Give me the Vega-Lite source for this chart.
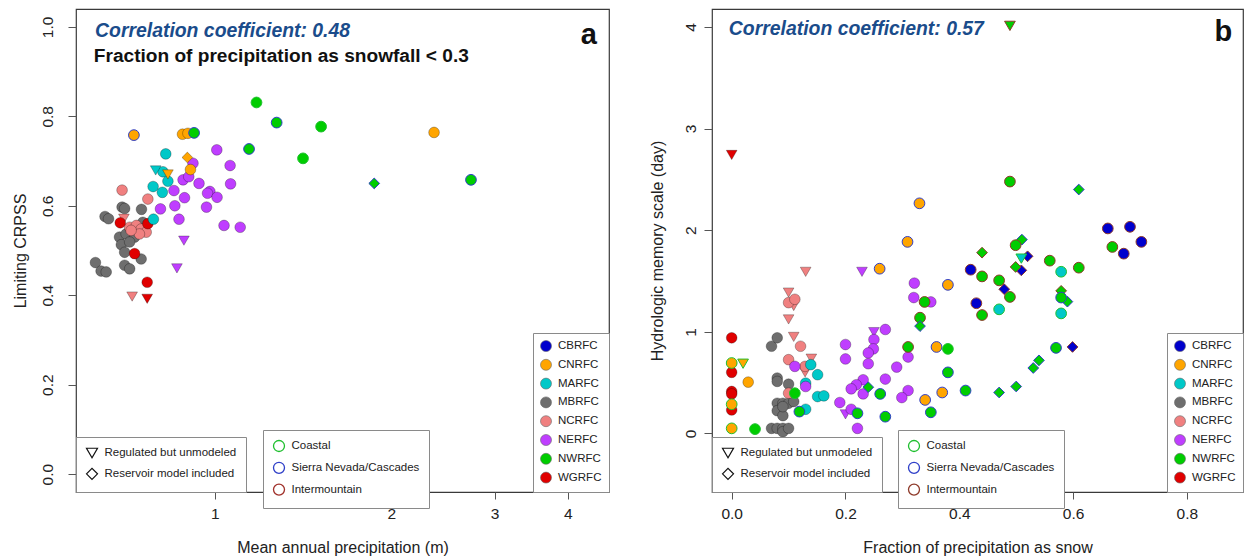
{
  "$schema": "https://vega.github.io/schema/vega-lite/v6.json",
  "background": "white",
  "padding": {"left": 11, "top": 8, "right": 2, "bottom": 0},
  "bounds": "flush",
  "spacing": 103,
  "config": {
    "font": "Liberation Sans",
    "view": {"stroke": "#3a3a3a", "strokeWidth": 1.2},
    "axis": {"domain": false, "grid": false, "ticks": true, "tickColor": "#555", "tickSize": 7, "tickWidth": 1, "labelFontSize": 15.5, "labelColor": "#222", "labelPadding": 7, "labelFlush": false, "labelOverlap": false, "titleFontSize": 16, "titleFontWeight": "normal", "titleColor": "#222"},
    "axisX": {"titlePadding": 18},
    "axisY": {"labelAngle": -90, "labelAlign": "center", "labelBaseline": "bottom", "tickSize": 8, "labelPadding": 6, "titlePadding": 12},
    "legend": {"strokeColor": "#8a8a8a", "fillColor": "white", "padding": 9.5, "labelFontSize": 11.5, "labelColor": "#222", "rowPadding": 4.8, "labelOffset": 6, "symbolSize": 121, "offset": 0}
  },
  "datasets": {
    "a": [
      {"rfc":"MBRFC","t":"N","g":"O","p":0.695,"s":0.597},
      {"rfc":"MBRFC","t":"N","g":"O","p":0.702,"s":0.594},
      {"rfc":"MBRFC","t":"N","g":"O","p":0.750,"s":0.592},
      {"rfc":"MBRFC","t":"N","g":"O","p":0.650,"s":0.576},
      {"rfc":"MBRFC","t":"N","g":"O","p":0.659,"s":0.571},
      {"rfc":"MBRFC","t":"N","g":"O","p":0.754,"s":0.563},
      {"rfc":"MBRFC","t":"N","g":"O","p":0.688,"s":0.530},
      {"rfc":"MBRFC","t":"N","g":"O","p":0.706,"s":0.537},
      {"rfc":"MBRFC","t":"N","g":"O","p":0.693,"s":0.513},
      {"rfc":"MBRFC","t":"N","g":"O","p":0.730,"s":0.530},
      {"rfc":"MBRFC","t":"N","g":"O","p":0.716,"s":0.519},
      {"rfc":"MBRFC","t":"N","g":"O","p":0.702,"s":0.496},
      {"rfc":"MBRFC","t":"N","g":"O","p":0.749,"s":0.481},
      {"rfc":"MBRFC","t":"N","g":"O","p":0.626,"s":0.473},
      {"rfc":"MBRFC","t":"N","g":"O","p":0.640,"s":0.454},
      {"rfc":"MBRFC","t":"N","g":"O","p":0.653,"s":0.452},
      {"rfc":"MBRFC","t":"N","g":"O","p":0.702,"s":0.467},
      {"rfc":"MBRFC","t":"N","g":"O","p":0.716,"s":0.459},
      {"rfc":"NCRFC","t":"N","g":"O","p":0.695,"s":0.635},
      {"rfc":"NCRFC","t":"N","g":"O","p":0.769,"s":0.615},
      {"rfc":"NCRFC","t":"R","g":"O","p":0.700,"s":0.571},
      {"rfc":"NCRFC","t":"N","g":"O","p":0.716,"s":0.552},
      {"rfc":"NCRFC","t":"N","g":"O","p":0.735,"s":0.556},
      {"rfc":"NCRFC","t":"N","g":"O","p":0.749,"s":0.548},
      {"rfc":"NCRFC","t":"N","g":"O","p":0.764,"s":0.541},
      {"rfc":"NCRFC","t":"N","g":"O","p":0.744,"s":0.537},
      {"rfc":"NCRFC","t":"N","g":"O","p":0.720,"s":0.545},
      {"rfc":"NCRFC","t":"R","g":"O","p":0.723,"s":0.397},
      {"rfc":"WGRFC","t":"N","g":"O","p":0.690,"s":0.562},
      {"rfc":"WGRFC","t":"N","g":"O","p":0.769,"s":0.560},
      {"rfc":"WGRFC","t":"N","g":"O","p":0.730,"s":0.493},
      {"rfc":"WGRFC","t":"N","g":"O","p":0.767,"s":0.429},
      {"rfc":"WGRFC","t":"R","g":"O","p":0.767,"s":0.392},
      {"rfc":"MARFC","t":"N","g":"O","p":0.825,"s":0.716},
      {"rfc":"MARFC","t":"N","g":"O","p":0.816,"s":0.676},
      {"rfc":"MARFC","t":"N","g":"O","p":0.832,"s":0.655},
      {"rfc":"MARFC","t":"N","g":"O","p":0.785,"s":0.643},
      {"rfc":"MARFC","t":"N","g":"O","p":0.814,"s":0.630},
      {"rfc":"MARFC","t":"N","g":"O","p":0.786,"s":0.570},
      {"rfc":"MARFC","t":"R","g":"O","p":0.793,"s":0.679},
      {"rfc":"NERFC","t":"N","g":"O","p":1.008,"s":0.725},
      {"rfc":"NERFC","t":"N","g":"O","p":0.918,"s":0.695},
      {"rfc":"NERFC","t":"N","g":"O","p":1.062,"s":0.690},
      {"rfc":"NERFC","t":"N","g":"O","p":0.883,"s":0.658},
      {"rfc":"NERFC","t":"N","g":"O","p":0.903,"s":0.665},
      {"rfc":"NERFC","t":"N","g":"O","p":0.940,"s":0.650},
      {"rfc":"NERFC","t":"N","g":"O","p":1.064,"s":0.649},
      {"rfc":"NERFC","t":"N","g":"O","p":0.981,"s":0.632},
      {"rfc":"NERFC","t":"N","g":"O","p":0.972,"s":0.628},
      {"rfc":"NERFC","t":"N","g":"O","p":1.009,"s":0.619},
      {"rfc":"NERFC","t":"N","g":"O","p":0.855,"s":0.600},
      {"rfc":"NERFC","t":"N","g":"O","p":0.888,"s":0.618},
      {"rfc":"NERFC","t":"N","g":"O","p":0.852,"s":0.634},
      {"rfc":"NERFC","t":"N","g":"O","p":0.808,"s":0.593},
      {"rfc":"NERFC","t":"N","g":"O","p":0.968,"s":0.597},
      {"rfc":"NERFC","t":"N","g":"O","p":0.869,"s":0.570},
      {"rfc":"NERFC","t":"N","g":"O","p":1.037,"s":0.556},
      {"rfc":"NERFC","t":"N","g":"O","p":1.105,"s":0.552},
      {"rfc":"NERFC","t":"R","g":"O","p":0.886,"s":0.522},
      {"rfc":"NERFC","t":"R","g":"O","p":0.862,"s":0.460},
      {"rfc":"CNRFC","t":"N","g":"S","p":0.728,"s":0.758},
      {"rfc":"CNRFC","t":"N","g":"O","p":0.881,"s":0.760},
      {"rfc":"CNRFC","t":"N","g":"O","p":0.900,"s":0.762},
      {"rfc":"CNRFC","t":"N","g":"O","p":2.365,"s":0.764},
      {"rfc":"CNRFC","t":"M","g":"O","p":0.898,"s":0.708},
      {"rfc":"CNRFC","t":"N","g":"O","p":0.909,"s":0.681},
      {"rfc":"CNRFC","t":"R","g":"O","p":0.832,"s":0.670},
      {"rfc":"NWRFC","t":"N","g":"C","p":1.178,"s":0.831},
      {"rfc":"NWRFC","t":"N","g":"S","p":1.275,"s":0.786},
      {"rfc":"NWRFC","t":"N","g":"S","p":0.922,"s":0.763},
      {"rfc":"NWRFC","t":"N","g":"S","p":1.144,"s":0.727},
      {"rfc":"NWRFC","t":"N","g":"C","p":1.518,"s":0.777},
      {"rfc":"NWRFC","t":"N","g":"C","p":1.414,"s":0.706},
      {"rfc":"NWRFC","t":"M","g":"S","p":1.870,"s":0.650},
      {"rfc":"NWRFC","t":"N","g":"S","p":2.734,"s":0.658}
    ],
    "b": [
      {"rfc":"MBRFC","t":"N","g":"O","f":0.070,"m":0.858},
      {"rfc":"MBRFC","t":"N","g":"O","f":0.080,"m":0.941},
      {"rfc":"MBRFC","t":"N","g":"O","f":0.080,"m":0.545},
      {"rfc":"MBRFC","t":"N","g":"O","f":0.080,"m":0.512},
      {"rfc":"MBRFC","t":"N","g":"O","f":0.100,"m":0.485},
      {"rfc":"MBRFC","t":"N","g":"O","f":0.080,"m":0.297},
      {"rfc":"MBRFC","t":"N","g":"O","f":0.090,"m":0.297},
      {"rfc":"MBRFC","t":"N","g":"O","f":0.100,"m":0.297},
      {"rfc":"MBRFC","t":"N","g":"O","f":0.109,"m":0.314},
      {"rfc":"MBRFC","t":"N","g":"O","f":0.080,"m":0.224},
      {"rfc":"MBRFC","t":"N","g":"O","f":0.090,"m":0.175},
      {"rfc":"MBRFC","t":"N","g":"O","f":0.090,"m":0.264},
      {"rfc":"MBRFC","t":"N","g":"O","f":0.070,"m":0.050},
      {"rfc":"MBRFC","t":"N","g":"O","f":0.080,"m":0.050},
      {"rfc":"MBRFC","t":"N","g":"O","f":0.090,"m":0.050},
      {"rfc":"MBRFC","t":"N","g":"O","f":0.090,"m":0.017},
      {"rfc":"MBRFC","t":"N","g":"O","f":0.100,"m":0.050},
      {"rfc":"NCRFC","t":"R","g":"O","f":0.130,"m":1.590},
      {"rfc":"NCRFC","t":"R","g":"O","f":0.100,"m":1.386},
      {"rfc":"NCRFC","t":"R","g":"O","f":0.109,"m":1.254},
      {"rfc":"NCRFC","t":"R","g":"O","f":0.100,"m":1.122},
      {"rfc":"NCRFC","t":"R","g":"O","f":0.109,"m":0.950},
      {"rfc":"NCRFC","t":"R","g":"O","f":0.140,"m":0.736},
      {"rfc":"NCRFC","t":"R","g":"O","f":0.129,"m":0.601},
      {"rfc":"NCRFC","t":"N","g":"O","f":0.100,"m":1.287},
      {"rfc":"NCRFC","t":"N","g":"O","f":0.111,"m":1.320},
      {"rfc":"NCRFC","t":"N","g":"O","f":0.121,"m":0.858},
      {"rfc":"NCRFC","t":"N","g":"O","f":0.100,"m":0.726},
      {"rfc":"NCRFC","t":"N","g":"O","f":0.129,"m":0.660},
      {"rfc":"NCRFC","t":"N","g":"O","f":0.100,"m":0.396},
      {"rfc":"WGRFC","t":"R","g":"O","f":0.000,"m":2.740},
      {"rfc":"WGRFC","t":"N","g":"O","f":0.000,"m":0.941},
      {"rfc":"WGRFC","t":"N","g":"O","f":0.000,"m":0.601},
      {"rfc":"WGRFC","t":"N","g":"O","f":0.000,"m":0.413},
      {"rfc":"WGRFC","t":"N","g":"O","f":0.000,"m":0.389},
      {"rfc":"WGRFC","t":"N","g":"O","f":0.000,"m":0.231},
      {"rfc":"CNRFC","t":"N","g":"C","f":0.000,"m":0.693},
      {"rfc":"CNRFC","t":"N","g":"C","f":0.000,"m":0.287},
      {"rfc":"CNRFC","t":"N","g":"C","f":0.000,"m":0.050},
      {"rfc":"CNRFC","t":"N","g":"O","f":0.029,"m":0.505},
      {"rfc":"CNRFC","t":"R","g":"C","f":0.020,"m":0.686},
      {"rfc":"CNRFC","t":"N","g":"S","f":0.330,"m":2.264},
      {"rfc":"CNRFC","t":"N","g":"S","f":0.309,"m":1.885},
      {"rfc":"CNRFC","t":"N","g":"S","f":0.260,"m":1.621},
      {"rfc":"CNRFC","t":"N","g":"S","f":0.380,"m":1.462},
      {"rfc":"CNRFC","t":"N","g":"S","f":0.360,"m":0.851},
      {"rfc":"CNRFC","t":"N","g":"S","f":0.340,"m":0.330},
      {"rfc":"CNRFC","t":"N","g":"S","f":0.370,"m":0.403},
      {"rfc":"MARFC","t":"N","g":"O","f":0.139,"m":0.677},
      {"rfc":"MARFC","t":"N","g":"O","f":0.151,"m":0.578},
      {"rfc":"MARFC","t":"N","g":"O","f":0.130,"m":0.495},
      {"rfc":"MARFC","t":"N","g":"O","f":0.151,"m":0.363},
      {"rfc":"MARFC","t":"N","g":"O","f":0.162,"m":0.370},
      {"rfc":"MARFC","t":"N","g":"O","f":0.130,"m":0.238},
      {"rfc":"NERFC","t":"R","g":"O","f":0.229,"m":1.590},
      {"rfc":"NERFC","t":"R","g":"O","f":0.250,"m":0.997},
      {"rfc":"NERFC","t":"R","g":"O","f":0.200,"m":0.188},
      {"rfc":"NERFC","t":"N","g":"O","f":0.321,"m":1.479},
      {"rfc":"NERFC","t":"N","g":"O","f":0.320,"m":1.337},
      {"rfc":"NERFC","t":"N","g":"O","f":0.350,"m":1.294},
      {"rfc":"NERFC","t":"N","g":"O","f":0.270,"m":1.023},
      {"rfc":"NERFC","t":"N","g":"O","f":0.250,"m":0.924},
      {"rfc":"NERFC","t":"N","g":"O","f":0.249,"m":0.832},
      {"rfc":"NERFC","t":"N","g":"O","f":0.240,"m":0.792},
      {"rfc":"NERFC","t":"N","g":"O","f":0.200,"m":0.875},
      {"rfc":"NERFC","t":"N","g":"O","f":0.200,"m":0.733},
      {"rfc":"NERFC","t":"N","g":"O","f":0.310,"m":0.752},
      {"rfc":"NERFC","t":"N","g":"O","f":0.310,"m":0.422},
      {"rfc":"NERFC","t":"N","g":"O","f":0.290,"m":0.653},
      {"rfc":"NERFC","t":"N","g":"O","f":0.270,"m":0.535},
      {"rfc":"NERFC","t":"N","g":"O","f":0.231,"m":0.528},
      {"rfc":"NERFC","t":"N","g":"O","f":0.240,"m":0.686},
      {"rfc":"NERFC","t":"N","g":"O","f":0.219,"m":0.479},
      {"rfc":"NERFC","t":"N","g":"O","f":0.210,"m":0.439},
      {"rfc":"NERFC","t":"N","g":"O","f":0.231,"m":0.389},
      {"rfc":"NERFC","t":"N","g":"O","f":0.190,"m":0.304},
      {"rfc":"NERFC","t":"N","g":"O","f":0.210,"m":0.238},
      {"rfc":"NERFC","t":"N","g":"O","f":0.221,"m":0.050},
      {"rfc":"NERFC","t":"N","g":"O","f":0.299,"m":0.353},
      {"rfc":"NERFC","t":"N","g":"O","f":0.111,"m":0.660},
      {"rfc":"NERFC","t":"N","g":"O","f":0.130,"m":0.462},
      {"rfc":"CBRFC","t":"N","g":"I","f":0.661,"m":2.017},
      {"rfc":"CBRFC","t":"N","g":"I","f":0.700,"m":2.033},
      {"rfc":"CBRFC","t":"N","g":"I","f":0.720,"m":1.885},
      {"rfc":"CBRFC","t":"N","g":"I","f":0.689,"m":1.769},
      {"rfc":"CBRFC","t":"N","g":"I","f":0.420,"m":1.611},
      {"rfc":"CBRFC","t":"N","g":"I","f":0.430,"m":1.281},
      {"rfc":"CBRFC","t":"M","g":"I","f":0.520,"m":1.743},
      {"rfc":"CBRFC","t":"M","g":"I","f":0.509,"m":1.605},
      {"rfc":"CBRFC","t":"M","g":"I","f":0.479,"m":1.419},
      {"rfc":"CBRFC","t":"M","g":"I","f":0.599,"m":0.851},
      {"rfc":"NWRFC","t":"R","g":"I","f":0.489,"m":4.010},
      {"rfc":"NWRFC","t":"N","g":"I","f":0.489,"m":2.478},
      {"rfc":"NWRFC","t":"M","g":"S","f":0.610,"m":2.400},
      {"rfc":"NWRFC","t":"N","g":"I","f":0.669,"m":1.835},
      {"rfc":"NWRFC","t":"M","g":"I","f":0.440,"m":1.779},
      {"rfc":"NWRFC","t":"M","g":"S","f":0.510,"m":1.907},
      {"rfc":"NWRFC","t":"N","g":"I","f":0.499,"m":1.852},
      {"rfc":"NWRFC","t":"N","g":"I","f":0.559,"m":1.700},
      {"rfc":"NWRFC","t":"M","g":"I","f":0.499,"m":1.638},
      {"rfc":"NWRFC","t":"N","g":"I","f":0.610,"m":1.631},
      {"rfc":"NWRFC","t":"N","g":"I","f":0.440,"m":1.545},
      {"rfc":"NWRFC","t":"N","g":"I","f":0.470,"m":1.506},
      {"rfc":"NWRFC","t":"N","g":"I","f":0.339,"m":1.294},
      {"rfc":"NWRFC","t":"N","g":"I","f":0.489,"m":1.343},
      {"rfc":"NWRFC","t":"M","g":"I","f":0.579,"m":1.403},
      {"rfc":"NWRFC","t":"M","g":"S","f":0.590,"m":1.297},
      {"rfc":"NWRFC","t":"N","g":"S","f":0.579,"m":1.337},
      {"rfc":"NWRFC","t":"N","g":"I","f":0.440,"m":1.165},
      {"rfc":"NWRFC","t":"N","g":"I","f":0.331,"m":1.139},
      {"rfc":"NWRFC","t":"M","g":"S","f":0.331,"m":1.056},
      {"rfc":"NWRFC","t":"N","g":"I","f":0.310,"m":0.851},
      {"rfc":"NWRFC","t":"N","g":"C","f":0.380,"m":0.832},
      {"rfc":"NWRFC","t":"N","g":"S","f":0.380,"m":0.601},
      {"rfc":"NWRFC","t":"N","g":"S","f":0.411,"m":0.422},
      {"rfc":"NWRFC","t":"M","g":"S","f":0.240,"m":0.455},
      {"rfc":"NWRFC","t":"N","g":"S","f":0.261,"m":0.389},
      {"rfc":"NWRFC","t":"N","g":"S","f":0.221,"m":0.198},
      {"rfc":"NWRFC","t":"N","g":"S","f":0.270,"m":0.165},
      {"rfc":"NWRFC","t":"N","g":"S","f":0.350,"m":0.208},
      {"rfc":"NWRFC","t":"M","g":"S","f":0.470,"m":0.403},
      {"rfc":"NWRFC","t":"M","g":"S","f":0.500,"m":0.462},
      {"rfc":"NWRFC","t":"M","g":"S","f":0.530,"m":0.644},
      {"rfc":"NWRFC","t":"M","g":"S","f":0.540,"m":0.719},
      {"rfc":"NWRFC","t":"N","g":"S","f":0.570,"m":0.842},
      {"rfc":"NWRFC","t":"N","g":"S","f":0.119,"m":0.215},
      {"rfc":"NWRFC","t":"N","g":"C","f":0.111,"m":0.396},
      {"rfc":"NWRFC","t":"N","g":"C","f":0.041,"m":0.043},
      {"rfc":"MARFC","t":"N","g":"C","f":0.579,"m":1.591},
      {"rfc":"MARFC","t":"N","g":"C","f":0.470,"m":1.221},
      {"rfc":"MARFC","t":"N","g":"C","f":0.579,"m":1.181},
      {"rfc":"MARFC","t":"R","g":"C","f":0.509,"m":1.720}
    ]
  },
  "resolve": {
    "scale": {"x": "independent", "y": "independent", "fill": "independent", "stroke": "independent", "shape": "independent"},
    "legend": {"fill": "independent", "stroke": "independent", "shape": "independent"}
  },
  "hconcat": [
    {
      "width": 533,
      "height": 483,
      "layer": [
        {
          "data": {"name": "a"},
          "mark": {"type": "point", "filled": true, "size": 115, "strokeWidth": 1, "opacity": 1},
          "encoding": {
            "x": {"field": "p", "type": "quantitative", "scale": {"type": "log", "domain": [0.58, 4.7], "nice": false}, "axis": {"values": [1, 2, 3, 4], "format": "d", "title": "Mean annual precipitation (m)"}},
            "y": {"field": "s", "type": "quantitative", "scale": {"domain": [-0.04, 1.04], "nice": false, "zero": false}, "axis": {"values": [0, 0.2, 0.4, 0.6, 0.8, 1], "format": ".1f", "title": "Limiting CRPSS", "labelPadding": 13, "titlePadding": 12}},
            "fill": {"field": "rfc", "type": "nominal", "scale": {"domain": ["CBRFC", "CNRFC", "MARFC", "MBRFC", "NCRFC", "NERFC", "NWRFC", "WGRFC"], "range": ["#0000CD", "#FFA500", "#00C8C8", "#6E6E6E", "#F08080", "#BF3EFF", "#00CD00", "#E00000"]}, "legend": {"title": null, "orient": "bottom-right", "padding": 7, "symbolType": "circle", "symbolStrokeColor": "#666", "symbolStrokeWidth": 0.6}},
            "stroke": {"field": "g", "type": "nominal", "scale": {"domain": ["C", "S", "I", "O"], "range": ["#1FBF2F", "#2F3FC8", "#A0302A", "rgba(0,0,0,0.28)"]}, "legend": {"title": null, "orient": "none", "legendX": 187, "legendY": 421, "values": ["C", "S", "I"], "symbolType": "circle", "symbolFillColor": "white", "symbolStrokeWidth": 1.3, "labelExpr": "datum.label == 'C' ? 'Coastal' : datum.label == 'S' ? 'Sierra Nevada/Cascades' : 'Intermountain'"}},
            "shape": {"field": "t", "type": "nominal", "scale": {"domain": ["R", "M", "N"], "range": ["triangle-down", "diamond", "circle"]}, "legend": {"title": null, "orient": "bottom-left", "values": ["R", "M"], "symbolFillColor": "white", "symbolStrokeColor": "#111", "symbolStrokeWidth": 1.2, "labelExpr": "datum.label == 'R' ? 'Regulated but unmodeled' : 'Reservoir model included'"}}
          }
        },
        {
          "data": {"values": [{"label": "Correlation coefficient: 0.48"}]},
          "mark": {"type": "text", "align": "left", "baseline": "middle", "fontSize": 19.4, "fontWeight": "bold", "fontStyle": "italic", "color": "#1A4C8B"},
          "encoding": {"x": {"datum": 0.625, "type": "quantitative"}, "y": {"datum": 0.991, "type": "quantitative"}, "text": {"field": "label"}}
        },
        {
          "data": {"values": [{"label": "Fraction of precipitation as snowfall < 0.3"}]},
          "mark": {"type": "text", "align": "left", "baseline": "middle", "fontSize": 19.1, "fontWeight": "bold", "color": "#111"},
          "encoding": {"x": {"datum": 0.622, "type": "quantitative"}, "y": {"datum": 0.935, "type": "quantitative"}, "text": {"field": "label"}}
        },
        {
          "data": {"values": [{"label": "a"}]},
          "mark": {"type": "text", "align": "center", "baseline": "alphabetic", "fontSize": 29, "fontWeight": "bold", "color": "#111"},
          "encoding": {"x": {"datum": 4.34, "type": "quantitative"}, "y": {"datum": 0.962, "type": "quantitative"}, "text": {"field": "label"}}
        }
      ]
    },
    {
      "width": 531,
      "height": 483,
      "layer": [
        {
          "data": {"name": "b"},
          "mark": {"type": "point", "filled": true, "size": 115, "strokeWidth": 1, "opacity": 1},
          "encoding": {
            "x": {"field": "f", "type": "quantitative", "scale": {"domain": [-0.0346, 0.8986], "nice": false, "zero": false}, "axis": {"values": [0, 0.2, 0.4, 0.6, 0.8], "format": ".1f", "title": "Fraction of precipitation as snow"}},
            "y": {"field": "m", "type": "quantitative", "scale": {"domain": [-0.576, 4.176], "nice": false, "zero": false}, "axis": {"values": [0, 1, 2, 3, 4], "format": "d", "title": "Hydrologic memory scale (day)", "labelPadding": 6, "titlePadding": 18}},
            "fill": {"field": "rfc", "type": "nominal", "scale": {"domain": ["CBRFC", "CNRFC", "MARFC", "MBRFC", "NCRFC", "NERFC", "NWRFC", "WGRFC"], "range": ["#0000CD", "#FFA500", "#00C8C8", "#6E6E6E", "#F08080", "#BF3EFF", "#00CD00", "#E00000"]}, "legend": {"title": null, "orient": "bottom-right", "padding": 7, "symbolType": "circle", "symbolStrokeColor": "#666", "symbolStrokeWidth": 0.6}},
            "stroke": {"field": "g", "type": "nominal", "scale": {"domain": ["C", "S", "I", "O"], "range": ["#1FBF2F", "#2F3FC8", "#8E3A2A", "rgba(0,0,0,0.28)"]}, "legend": {"title": null, "orient": "none", "legendX": 186, "legendY": 421, "values": ["C", "S", "I"], "symbolType": "circle", "symbolFillColor": "white", "symbolStrokeWidth": 1.3, "labelExpr": "datum.label == 'C' ? 'Coastal' : datum.label == 'S' ? 'Sierra Nevada/Cascades' : 'Intermountain'"}},
            "shape": {"field": "t", "type": "nominal", "scale": {"domain": ["R", "M", "N"], "range": ["triangle-down", "diamond", "circle"]}, "legend": {"title": null, "orient": "bottom-left", "values": ["R", "M"], "symbolFillColor": "white", "symbolStrokeColor": "#111", "symbolStrokeWidth": 1.2, "labelExpr": "datum.label == 'R' ? 'Regulated but unmodeled' : 'Reservoir model included'"}}
          }
        },
        {
          "data": {"values": [{"label": "Correlation coefficient: 0.57"}]},
          "mark": {"type": "text", "align": "left", "baseline": "middle", "fontSize": 19.4, "fontWeight": "bold", "fontStyle": "italic", "color": "#1A4C8B"},
          "encoding": {"x": {"datum": -0.005, "type": "quantitative"}, "y": {"datum": 3.98, "type": "quantitative"}, "text": {"field": "label"}}
        },
        {
          "data": {"values": [{"label": "b"}]},
          "mark": {"type": "text", "align": "center", "baseline": "alphabetic", "fontSize": 29, "fontWeight": "bold", "color": "#111"},
          "encoding": {"x": {"datum": 0.864, "type": "quantitative"}, "y": {"datum": 3.86, "type": "quantitative"}, "text": {"field": "label"}}
        }
      ]
    }
  ]
}
